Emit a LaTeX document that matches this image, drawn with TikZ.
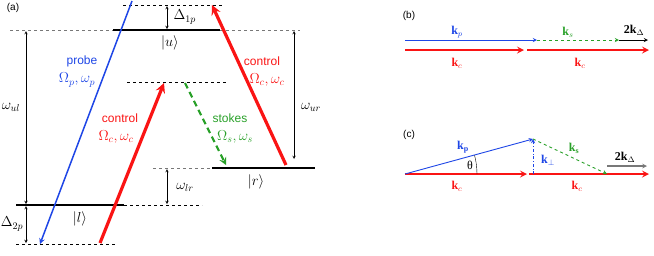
\documentclass[tikz,border=0pt]{standalone}
\usepackage{amsmath,amssymb,bm}
\usepackage{fontspec}
\setsansfont{Liberation Sans}
\setmainfont{Liberation Serif}
\usepackage{tikz}
\definecolor{probe}{RGB}{30,70,230}
\definecolor{ctrl}{RGB}{250,20,20}
\definecolor{stk}{RGB}{40,160,40}
\definecolor{lvl}{RGB}{120,120,120}

\begin{document}
\begin{tikzpicture}[x=1pt,y=-1pt,>=stealth,font=\large,
  lab/.style={font=\sffamily\large},
  sym/.style={font=\Large},
  lvlline/.style={black,line width=1.6pt},
  guide/.style={dashed,line width=.7pt},
  gap/.style={<->,line width=.5pt,shorten >=1pt,shorten <=1pt},
  beam/.style={->,ctrl,line width=3.2pt}]
\useasboundingbox (0,0) rectangle (654,255);
% (a) levels
\node[lab,font=\sffamily] (tag-a) at (13,8) {(a)};
\coordinate (u-l) at (10,30); \coordinate (u-r) at (300,30);
\coordinate (u-a) at (113,30); \coordinate (u-b) at (220,30);
\draw[guide,lvl] (u-l)--(u-r);
\draw[lvlline] (u-a)--(u-b);
\node[sym] (u) at (170,43) {$|u\rangle$};
\coordinate (t-a) at (123,5); \coordinate (t-b) at (222,5);
\draw[guide] (t-a)--(t-b);
\coordinate (v-a) at (127,82); \coordinate (v-b) at (227,82);
\draw[guide] (v-a)--(v-b);
\coordinate (r-d) at (153,168); \coordinate (r-a) at (212,168); \coordinate (r-b) at (315,168);
\draw[guide,lvl] (r-d)--(r-a);
\draw[lvlline] (r-a)--(r-b);
\node[sym] (r) at (256,182) {$|r\rangle$};
\coordinate (l-a) at (16,205); \coordinate (l-b) at (124,205); \coordinate (l-d) at (202,205);
\draw[lvlline] (l-a)--(l-b);
\draw[guide] (l-b)--(l-d);
\node[sym] (l) at (80,219) {$|l\rangle$};
\coordinate (b-a) at (16,244); \coordinate (b-b) at (115,244);
\draw[guide] (b-a)--(b-b);
% (a) spacings
\coordinate (d1-t) at (167,5); \coordinate (d1-b) at (167,30);
\draw[gap] (d1-t)--(d1-b);
\node[sym,anchor=west] (d1) at (170,17) {$\Delta_{1p}$};
\coordinate (ul-t) at (26,30); \coordinate (ul-b) at (26,205);
\draw[gap] (ul-t)--(ul-b);
\node[sym] (wul) at (11,107) {$\omega_{ul}$};
\coordinate (ur-t) at (294,30); \coordinate (ur-b) at (294,160);
\draw[gap] (ur-t)--(ur-b);
\node[sym] (wur) at (311,107) {$\omega_{ur}$};
\coordinate (lr-t) at (167,168); \coordinate (lr-b) at (167,205);
\draw[gap] (lr-t)--(lr-b);
\node[sym] (wlr) at (185,187) {$\omega_{lr}$};
\coordinate (d2-t) at (26,205); \coordinate (d2-b) at (26,244);
\draw[gap] (d2-t)--(d2-b);
\node[sym] (d2) at (12,224) {$\Delta_{2p}$};
% (a) beams
\coordinate (p-s) at (132,1); \coordinate (p-e) at (40,244);
\draw[->,probe,line width=1.5pt] (p-s)--(p-e);
\node[lab,probe] (p-txt) at (82,61) {probe};
\node[sym,probe] (p-sym) at (77,80) {$\Omega_p,\omega_p$};
\coordinate (c1-s) at (100,243); \coordinate (c1-e) at (164,83);
\draw[beam] (c1-s)--(c1-e);
\node[lab,ctrl] (c1-txt) at (120,118) {control};
\node[sym,ctrl] (c1-sym) at (116,137) {$\Omega_c,\omega_c$};
\coordinate (c2-s) at (286,165); \coordinate (c2-e) at (212,5);
\draw[beam] (c2-s)--(c2-e);
\node[lab,ctrl] (c2-txt) at (262,61) {control};
\node[sym,ctrl] (c2-sym) at (267,80) {$\Omega_c,\omega_c$};
\coordinate (s-s) at (185,83); \coordinate (s-e) at (226,165);
\draw[->,stk,dash pattern=on 6pt off 4pt,line width=2.2pt] (s-s)--(s-e);
\node[lab,stk] (s-txt) at (230,118) {stokes};
\node[sym,stk] (s-sym) at (235,137) {$\Omega_s,\omega_s$};
% (b) collinear
\node[lab,font=\sffamily] (tag-b) at (409,16) {(b)};
\coordinate (b0) at (405,40); \coordinate (b1) at (537,40);
\coordinate (b2) at (619,40); \coordinate (b3) at (648,40);
\draw[->,probe,line width=.9pt] (b0)--(b1);
\draw[->,stk,dashed,line width=.9pt] (b1)--(b2);
\draw[->,line width=.9pt] (b2)--(b3);
\node[probe] (kp-b) at (457,32) {$\mathbf{k}_p$};
\node[stk] (ks-b) at (568,32) {$\mathbf{k}_s$};
\node (kd-b) at (634,30) {$\mathbf{2k}_\Delta$};
\coordinate (bc0) at (405,50); \coordinate (bc1) at (524,50);
\coordinate (bc2) at (527,50); \coordinate (bc3) at (649,50);
\draw[beam,line width=2pt] (bc0)--(bc1);
\draw[beam,line width=2pt] (bc2)--(bc3);
\node[ctrl] (kc1-b) at (457,63) {$\mathbf{k}_c$};
\node[ctrl] (kc2-b) at (580,63) {$\mathbf{k}_c$};
% (c) phase matching at an angle
\node[lab,font=\sffamily] (tag-c) at (409,135) {(c)};
\coordinate (c0) at (405,174); \coordinate (c1) at (527,174);
\coordinate (c2) at (529,174); \coordinate (c3) at (649,174);
\coordinate (ctop) at (533,139); \coordinate (cfoot) at (533,174);
\coordinate (cs) at (607,174);
\draw[beam,line width=2pt] (c0)--(c1);
\draw[beam,line width=2pt] (c2)--(c3);
\draw[->,probe,line width=.9pt] (c0)--(ctop);
\draw[->,probe,dash dot,line width=.9pt] (cfoot)--(ctop);
\draw[->,stk,dashed,line width=.9pt] (ctop)--(cs);
\coordinate (kd0) at (607,166); \coordinate (kd1) at (647,166);
\draw[->,lvl,line width=1.1pt] (kd0)--(kd1);
\draw[line width=.4pt] ([shift={(72,0)}]c0) arc[start angle=0,end angle=-15,radius=72];
\node[probe] (kp-c) at (463,147) {$\mathbf{k}_\mathbf{p}$};
\node[font=\rmfamily\large] (th) at (470,165) {θ};
\node[probe] (kperp) at (548,160) {$\mathbf{k}_\perp$};
\node[stk] (ks-c) at (574,148) {$\mathbf{k}_\mathbf{s}$};
\node (kd-c) at (625,157) {$\mathbf{2k}_\Delta$};
\node[ctrl] (kc1-c) at (457,186) {$\mathbf{k}_c$};
\node[ctrl] (kc2-c) at (577,186) {$\mathbf{k}_c$};
\end{tikzpicture}
\end{document}
